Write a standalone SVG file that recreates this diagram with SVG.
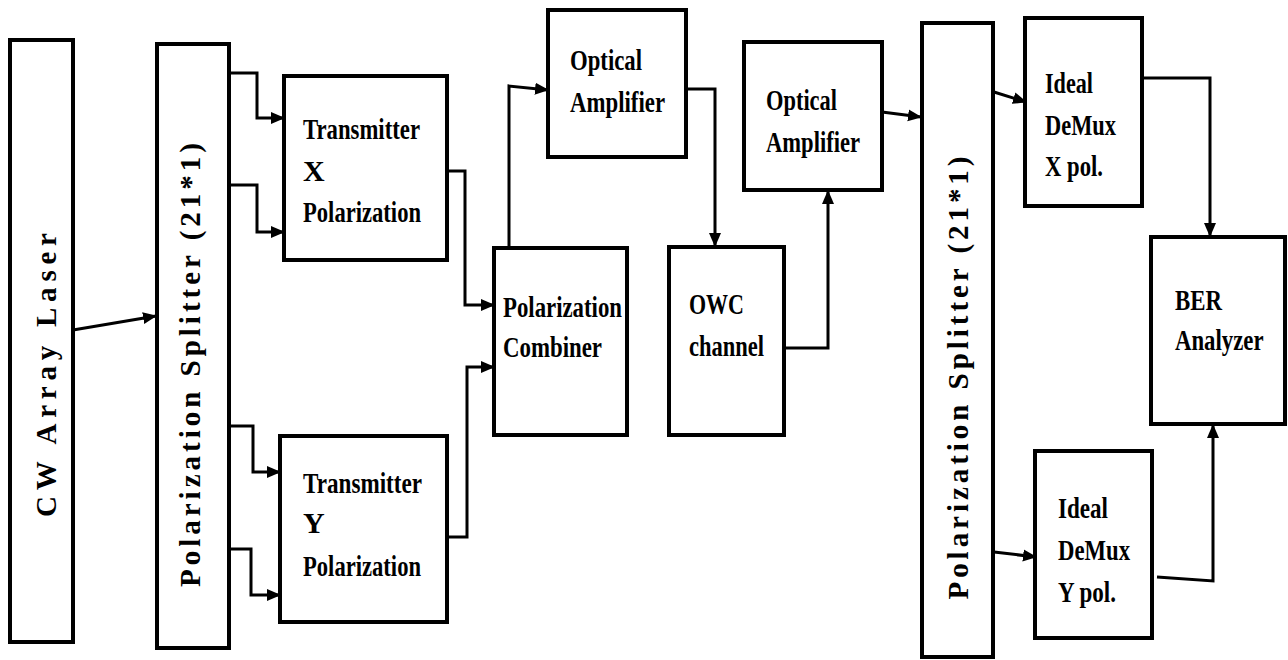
<svg xmlns="http://www.w3.org/2000/svg" width="1288" height="660" viewBox="0 0 1288 660">
<style>
.box{fill:#fff;stroke:#000;stroke-width:4}
.lbl{font-family:'Liberation Serif','DejaVu Serif',serif;font-weight:700;font-size:30px;fill:#000}
.vlbl{font-family:'Liberation Serif','DejaVu Serif',serif;font-weight:700;font-size:29px;fill:#000;text-anchor:middle}
.con{fill:none;stroke:#000;stroke-width:3;marker-end:url(#ah)}
</style>
<defs>
<marker id="ah" markerUnits="userSpaceOnUse" markerWidth="14" markerHeight="14" viewBox="0 0 14 14" refX="13" refY="7" orient="auto">
<path d="M0,1 L14,7 L0,13 Z" fill="#000"/>
</marker>
</defs>
<rect width="1288" height="660" fill="#fff"/>
<g id="connectors">
<path class="con" d="M73,330 L156,316"/>
<path class="con" d="M229,73 L257,73 L257,118 L284,118"/>
<path class="con" d="M229,185 L257,185 L257,232 L284,232"/>
<path class="con" d="M229,426 L253,426 L253,472 L280,472"/>
<path class="con" d="M229,549 L251,549 L251,595 L280,595"/>
<path class="con" d="M447,171 L465,171 L465,305 L494,305"/>
<path class="con" d="M447,537 L467,537 L467,367 L494,367"/>
<path class="con" d="M509,248 L509,86 L548,90"/>
<path class="con" d="M686,89 L715,89 L715,246"/>
<path class="con" d="M784,348 L828,348 L828,191"/>
<path class="con" d="M882,112 L921,117"/>
<path class="con" d="M994,92 L1026,102"/>
<path class="con" d="M1142,78 L1210,78 L1210,236"/>
<path class="con" d="M994,552 L1036,557"/>
<path class="con" d="M1157,577 L1213,581 L1213,425"/>
</g>
<g id="cw-laser">
<rect class="box" x="10" y="40" width="63" height="602"/>
<text class="vlbl" transform="translate(56,375) rotate(-90)" textLength="284" lengthAdjust="spacing">CW Array Laser</text>
</g>
<g id="pol-splitter-1">
<rect class="box" x="157" y="44" width="72" height="604"/>
<text class="vlbl" transform="translate(200,365) rotate(-90)" textLength="444" lengthAdjust="spacing">Polarization Splitter (21*1)</text>
</g>
<g id="tx-x">
<rect class="box" x="284" y="76" width="163" height="184"/>
<text class="lbl" x="303" y="139" textLength="117" lengthAdjust="spacingAndGlyphs">Transmitter</text>
<text class="lbl" x="303" y="181">X</text>
<text class="lbl" x="303" y="222" textLength="118" lengthAdjust="spacingAndGlyphs">Polarization</text>
</g>
<g id="tx-y">
<rect class="box" x="280" y="436" width="167" height="186"/>
<text class="lbl" x="303" y="493" textLength="119" lengthAdjust="spacingAndGlyphs">Transmitter</text>
<text class="lbl" x="303" y="533">Y</text>
<text class="lbl" x="303" y="576" textLength="118" lengthAdjust="spacingAndGlyphs">Polarization</text>
</g>
<g id="pol-combiner">
<rect class="box" x="494" y="248" width="133" height="187"/>
<text class="lbl" x="503" y="317" textLength="119" lengthAdjust="spacingAndGlyphs">Polarization</text>
<text class="lbl" x="503" y="357" textLength="99" lengthAdjust="spacingAndGlyphs">Combiner</text>
</g>
<g id="opt-amp-1">
<rect class="box" x="548" y="10" width="138" height="147"/>
<text class="lbl" x="570" y="70" textLength="72" lengthAdjust="spacingAndGlyphs">Optical</text>
<text class="lbl" x="570" y="112" textLength="95" lengthAdjust="spacingAndGlyphs">Amplifier</text>
</g>
<g id="owc-channel">
<rect class="box" x="669" y="247" width="115" height="188"/>
<text class="lbl" x="689" y="314" textLength="55" lengthAdjust="spacingAndGlyphs">OWC</text>
<text class="lbl" x="689" y="356" textLength="75" lengthAdjust="spacingAndGlyphs">channel</text>
</g>
<g id="opt-amp-2">
<rect class="box" x="744" y="42" width="138" height="148"/>
<text class="lbl" x="766" y="110" textLength="71" lengthAdjust="spacingAndGlyphs">Optical</text>
<text class="lbl" x="766" y="152" textLength="94" lengthAdjust="spacingAndGlyphs">Amplifier</text>
</g>
<g id="pol-splitter-2">
<rect class="box" x="922" y="23" width="71" height="634"/>
<text class="vlbl" transform="translate(968,378) rotate(-90)" textLength="443" lengthAdjust="spacing">Polarization Splitter (21*1)</text>
</g>
<g id="demux-x">
<rect class="box" x="1025" y="18" width="117" height="188"/>
<text class="lbl" x="1045" y="93" textLength="48" lengthAdjust="spacingAndGlyphs">Ideal</text>
<text class="lbl" x="1045" y="135" textLength="71" lengthAdjust="spacingAndGlyphs">DeMux</text>
<text class="lbl" x="1045" y="176" textLength="58" lengthAdjust="spacingAndGlyphs">X pol.</text>
</g>
<g id="demux-y">
<rect class="box" x="1035" y="451" width="117" height="187"/>
<text class="lbl" x="1058" y="518" textLength="50" lengthAdjust="spacingAndGlyphs">Ideal</text>
<text class="lbl" x="1058" y="560" textLength="72" lengthAdjust="spacingAndGlyphs">DeMux</text>
<text class="lbl" x="1058" y="602" textLength="58" lengthAdjust="spacingAndGlyphs">Y pol.</text>
</g>
<g id="ber-analyzer">
<rect class="box" x="1151" y="237" width="134" height="187"/>
<text class="lbl" x="1175" y="310" textLength="47" lengthAdjust="spacingAndGlyphs">BER</text>
<text class="lbl" transform="translate(1175,350) scale(0.76,1)">Analyzer</text>
</g>
</svg>
